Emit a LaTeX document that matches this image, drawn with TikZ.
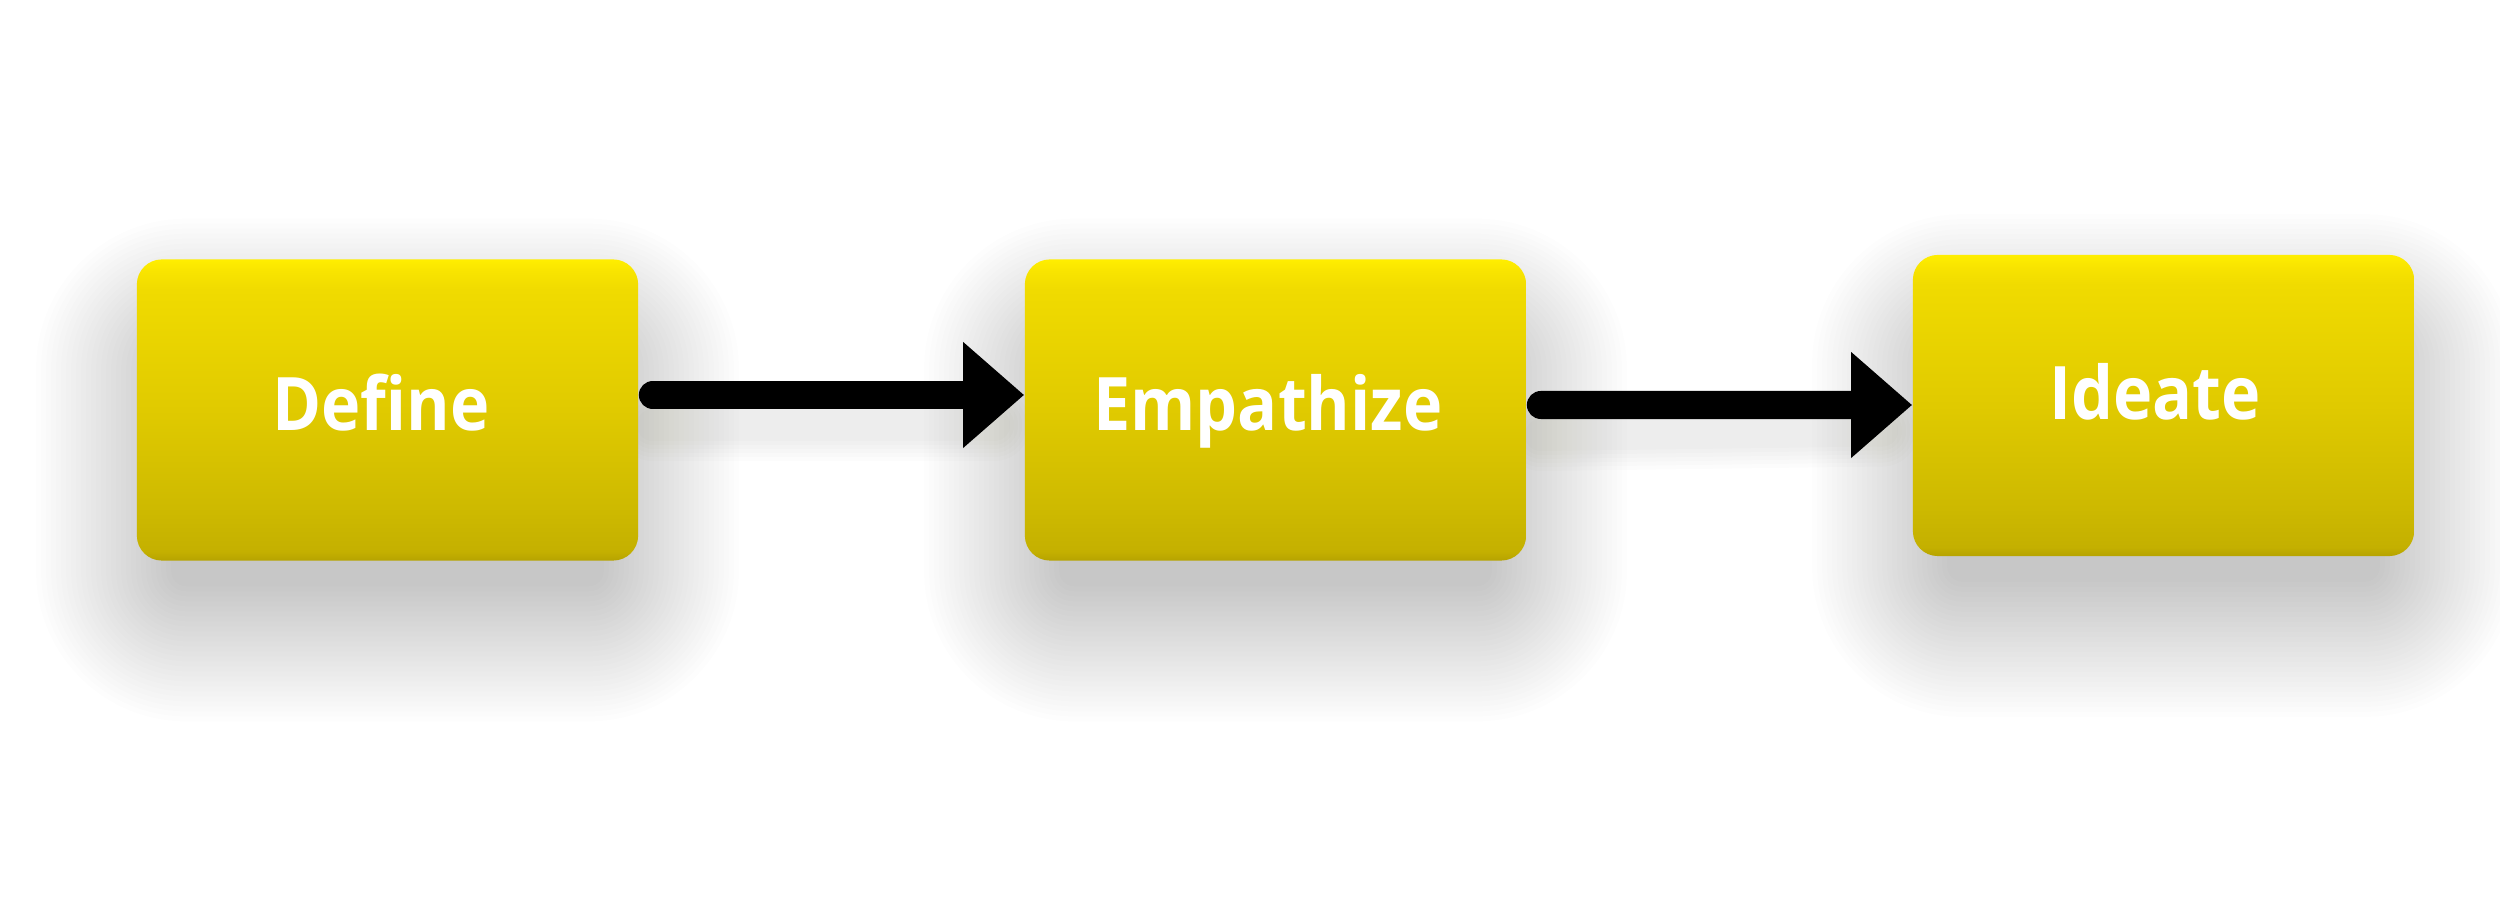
\documentclass[tikz,border=0pt]{standalone}
\usepackage{fontspec}
\setmainfont{Open Sans}
\usetikzlibrary{arrows.meta}
\definecolor{ytop}{HTML}{FFEE00}
\definecolor{yt1}{HTML}{F8E400}
\definecolor{yt2}{HTML}{F0DB00}
\definecolor{ymid}{HTML}{E0CA00}
\definecolor{yb3}{HTML}{CDB900}
\definecolor{yb2}{HTML}{C4B000}
\definecolor{ybot}{HTML}{B6A300}
\definecolor{shcol}{HTML}{3A3A22}
\pgfdeclareverticalshading{boxshade}{100bp}{color(0bp)=(ybot); color(25bp)=(ybot); color(26.5bp)=(yb2); color(33bp)=(yb3); color(50bp)=(ymid); color(70bp)=(yt2); color(73bp)=(yt1); color(75bp)=(ytop); color(100bp)=(ytop)}
\pgfdeclarelayer{bgw}
\pgfdeclarelayer{bg}
\pgfsetlayers{bgw,bg,main}
\begin{document}
\begin{tikzpicture}[x=0.01cm,y=-0.01cm,
  box/.style={minimum width=5.01cm, minimum height=3.01cm, inner sep=0pt,
    rounded corners=0.25cm, shading=boxshade},
  lbl/.style={anchor=base, text=white, font=\fontsize{21pt}{25pt}\selectfont\bfseries, inner sep=0pt},
  arr/.style={line width=0.28cm, line cap=round, -{Triangle[length=0.61cm, width=1.02cm]}},
  arrsh/.style={shcol, opacity=0.012, line cap=round},
  boxsh/.style={shcol, opacity=0.008}]
\begin{pgfonlayer}{bgw}
\fill[white] (0,0) rectangle (2500,916);
\end{pgfonlayer}
\useasboundingbox (0,0) rectangle (2500,916);
\node[box] (define) at (387.5,410) {};
\node[box] (empathize) at (1275.5,410) {};
\node[box] (ideate) at (2163.5,405.5) {};
\node[lbl] (tdefine) at (381,431) {\scalebox{0.9}[1]{Define}};
\node[lbl] (tempathize) at (1268,431) {\scalebox{0.9}[1]{Empathize}};
\node[lbl] (tideate) at (2155,420) {\scalebox{0.9}[1]{Ideate}};
\begin{pgfonlayer}{bg}
\foreach \b in {define,empathize,ideate}{
  \foreach \i in {1,...,28}{
    \pgfmathsetmacro{\e}{\i*0.05}
    \fill[boxsh, rounded corners=0.1cm+\e cm]
      ([xshift=0.4cm-\e cm, yshift=-1.0cm+\e cm]\b.north west) rectangle
      ([xshift=-0.4cm+\e cm, yshift=-0.2cm-\e cm]\b.south east);
  }
}
\foreach \w in {4,12,20,28,36,44}{
  \draw[arrsh, line width=0.28cm+\w*0.01cm] ([xshift=0.14cm,yshift=-0.15cm]define.east) -- ([xshift=-0.3cm,yshift=-0.15cm]empathize.west);
  \draw[arrsh, line width=0.28cm+\w*0.01cm] ([xshift=0.14cm,yshift=-0.25cm]empathize.east) -- ([xshift=-0.3cm,yshift=-0.25cm]ideate.west);
}
\end{pgfonlayer}
\draw[arr] ([xshift=0.14cm,yshift=0.15cm]define.east) -- ([yshift=0.15cm]empathize.west);
\draw[arr] ([xshift=0.14cm,yshift=0.05cm]empathize.east) -- ([yshift=0.005cm]ideate.west);
\end{tikzpicture}
\end{document}
